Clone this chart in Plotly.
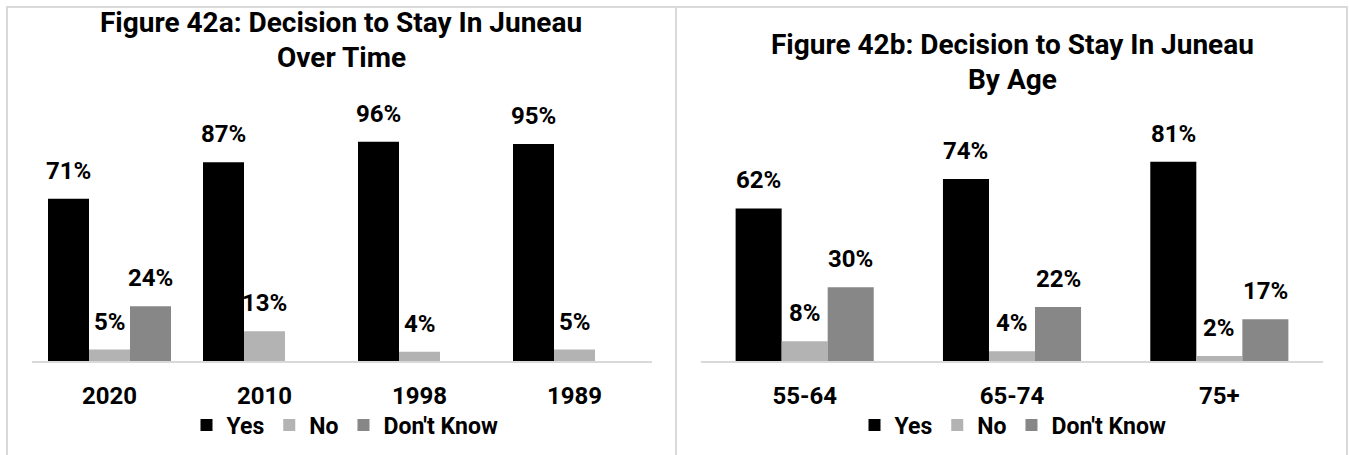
import plotly.graph_objects as go

# Figure 42a: decision to stay, by survey year
years = ["2020", "2010", "1998", "1989"]
yes_by_year = [71, 87, 96, 95]
no_by_year = [5, 13, 4, 5]
dk_by_year = [24, None, None, None]

# Figure 42b: decision to stay, by age group
ages = ["55-64", "65-74", "75+"]
yes_by_age = [62, 74, 81]
no_by_age = [8, 4, 2]
dk_by_age = [30, 22, 17]

series_names = ["Yes", "No", "Don't Know"]
series_colors = ["#000000", "#b3b3b3", "#878787"]

W, H = 1349, 455
FONT = "Roboto, 'Open Sans', sans-serif"
BORDER = "#d9d9d9"


def px_x(p):
    return p / W


def px_y(p):
    return 1 - p / H


fig = go.Figure()
annotations = []


def add_panel(cats, series, xaxis, yaxis, legend, bar_w):
    xref = xaxis.replace("axis", "")
    yref = yaxis.replace("axis", "")
    n = len(cats)
    for k, (name, color, vals) in enumerate(zip(series_names, series_colors, series)):
        xs = [i + (k - 1) * bar_w for i in range(n)]
        fig.add_trace(go.Bar(
            x=xs, y=[v if v is not None else 0 for v in vals], width=bar_w,
            name=name, marker=dict(color=color, line=dict(width=0)),
            xaxis=xref, yaxis=yref, legend=legend, hoverinfo="skip",
        ))
        for x, v in zip(xs, vals):
            if v is None:
                continue
            annotations.append(dict(
                x=x, y=v, xref=xref, yref=yref, text=f"{v}%",
                showarrow=False, yanchor="bottom", xanchor="center", yshift=12,
                font=dict(family=FONT, size=24, color="#000000", weight="bold"),
            ))


add_panel(years, [yes_by_year, no_by_year, dk_by_year], "xaxis", "yaxis", "legend", 0.2645)
add_panel(ages, [yes_by_age, no_by_age, dk_by_age], "xaxis2", "yaxis2", "legend2", 0.222)

tick_font = dict(family=FONT, size=24, color="#000000", weight="bold")
axis_common = dict(showgrid=False, zeroline=False, showline=True, linecolor=BORDER,
                   linewidth=2, ticks="", tickfont=tick_font, ticklabelstandoff=12,
                   fixedrange=True)

legend_font = dict(family=FONT, size=23, color="#000000", weight="bold")

fig.update_layout(
    width=W, height=H,
    margin=dict(l=0, r=0, t=0, b=0),
    paper_bgcolor="#ffffff", plot_bgcolor="rgba(0,0,0,0)",
    barmode="overlay",
    xaxis=dict(domain=[px_x(32), px_x(652)], range=[-0.5, 3.5],
               tickvals=list(range(len(years))), ticktext=years, anchor="y", **axis_common),
    yaxis=dict(domain=[px_y(361), px_y(132.5)], range=[0, 100], visible=False, fixedrange=True),
    xaxis2=dict(domain=[px_x(701), px_x(1323)], range=[-0.5, 2.5],
                tickvals=list(range(len(ages))), ticktext=ages, anchor="y2", **axis_common),
    yaxis2=dict(domain=[px_y(361), px_y(115)], range=[0, 100], visible=False,
                anchor="x2", fixedrange=True),
    legend=dict(orientation="h", x=px_x(345), xanchor="center", y=px_y(425), yanchor="middle",
                font=legend_font, itemwidth=30, bgcolor="rgba(0,0,0,0)", traceorder="normal"),
    legend2=dict(orientation="h", x=px_x(1013), xanchor="center", y=px_y(425), yanchor="middle",
                 font=legend_font, itemwidth=30, bgcolor="rgba(0,0,0,0)", traceorder="normal"),
    showlegend=True,
)

title_font = dict(family=FONT, size=28, color="#000000", weight="bold")
titles = [
    ("Figure 42a: Decision to Stay In Juneau", 341, 22),
    ("Over Time", 341, 57),
    ("Figure 42b: Decision to Stay In Juneau", 1012, 45),
    ("By Age", 1012, 79),
]
for text, cx, cy in titles:
    annotations.append(dict(text=text, x=px_x(cx), y=px_y(cy), xref="paper", yref="paper",
                            xanchor="center", yanchor="middle", showarrow=False, font=title_font))

fig.update_layout(annotations=annotations)

# Chart-area borders around the two panels
for x0, x1 in [(7, 676), (676, 1347)]:
    fig.add_shape(type="rect", xref="paper", yref="paper",
                  x0=px_x(x0), x1=px_x(x1), y0=-0.05, y1=px_y(7),
                  line=dict(color=BORDER, width=2), fillcolor="rgba(0,0,0,0)", layer="below")

fig.write_html("out.html")
